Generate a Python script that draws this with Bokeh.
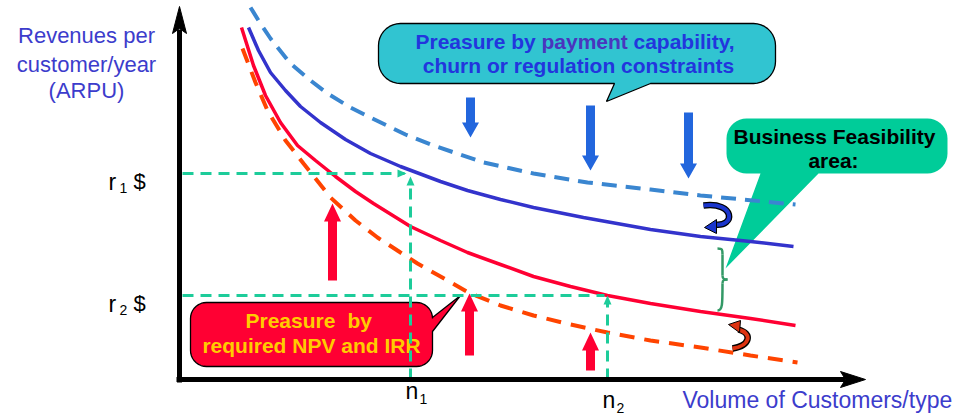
import numpy as np
from bokeh.plotting import figure
from bokeh.models import Range1d
from bokeh.core.properties import value
from bokeh.embed import file_html
from bokeh.resources import INLINE

# ---------------- data (origin at the axes corner; x = customers, y = ARPU) ----------------
payment_limit_x = [71, 79, 91, 111, 131, 148, 171, 191, 226, 254, 304, 354, 408, 471, 521, 616]
payment_limit_y = [372, 359, 341, 316, 299, 286, 272, 262, 245, 234, 217, 206, 197, 190, 184, 175]

arpu_high_x = [69, 79, 91, 106, 121, 141, 166, 191, 221, 261, 288, 321, 354, 404, 471, 521, 571, 614]
arpu_high_y = [352, 329, 307, 289, 273, 257, 240, 226, 213, 198, 189, 180, 172, 162, 150, 143, 138, 133]

arpu_low_x = [62, 74, 86, 101, 118, 136, 156, 176, 194, 231, 261, 288, 321, 354, 391, 428, 471, 521, 571, 616]
arpu_low_y = [352, 314, 284, 257, 234, 219, 203, 188, 176, 153, 139, 127, 115, 103, 93, 84, 76, 68, 61, 54]

npv_limit_x = [63, 76, 88, 106, 124, 151, 176, 198, 221, 238, 261, 289, 321, 354, 391, 428, 471, 521, 571, 618]
npv_limit_y = [331, 297, 269, 239, 216, 182, 159, 142, 127, 116, 103, 87, 74, 64, 55, 47, 39, 32, 24, 17]

r_levels = [206, 84]          # r1, r2
n_levels = [231, 428]         # n1, n2
r_names = ["1", "2"]
n_names = ["1", "2"]

down_arrow_x = [291, 411, 509]
down_arrow_top = [282, 274, 267]
down_arrow_tip = [242, 209, 201]

up_arrow_x = [153, 290, 411]
up_arrow_base = [99, 24, 9]
up_arrow_tip = [176, 86, 47]

# ---------------- figure ----------------
p = figure(width=967, height=418, x_range=Range1d(-179, 788), y_range=Range1d(-39, 379),
           output_backend="svg", toolbar_location=None, min_border=0,
           x_axis_location=None, y_axis_location=None)
p.grid.visible = False
p.outline_line_color = None
p.background_fill_color = "white"
p.border_fill_color = "white"

FONT = "Liberation Sans"
TEXT_SHIFT = 8


def label(x, y, s, size, color="black", bold=False, align="left"):
    p.text(x=[x], y=[y + TEXT_SHIFT], text=[s], text_font=value(FONT), text_font_size=f"{size}px",
           text_font_style="bold" if bold else "normal", text_color=color,
           text_align=align, text_baseline="alphabetic")


def callout(x0, x1, y0, y1, rx, ry, tail, edge):
    pts = []

    def arc(cx, cy, a0, a1, n=10):
        for t in np.radians(np.linspace(a0, a1, n)):
            pts.append((cx + rx * np.cos(t), cy + ry * np.sin(t)))

    arc(x1 - rx, y1 - ry, 90, 0)
    if edge == "right":
        pts.extend(tail)
    arc(x1 - rx, y0 + ry, 0, -90)
    if edge == "bottom":
        pts.extend(tail)
    arc(x0 + rx, y0 + ry, -90, -180)
    arc(x0 + rx, y1 - ry, 180, 90)
    return [q[0] for q in pts], [q[1] for q in pts]


def block_arrow(x, y0, y1, sw, hw, hl):
    d = 1 if y1 > y0 else -1
    yb = y1 - d * hl
    xs = [x - sw / 2, x - sw / 2, x - hw / 2, x, x + hw / 2, x + sw / 2, x + sw / 2]
    ys = [y0, yb, yb, y1, yb, yb, y0]
    return xs, ys


# ---------------- callout shapes ----------------
cx, cy = callout(199, 596, 296, 356, 22, 22, [(471, 296), (427, 278), (435, 296)], "bottom")
p.patch(cx, cy, fill_color="#31C4D1", line_color="black", line_width=1.3)

cx, cy = callout(547, 768, 206, 261, 20, 20, [(639, 206), (546, 111), (581, 206)], "bottom")
p.patch(cx, cy, fill_color="#00CC99", line_color=None)

cx, cy = callout(11, 253, 13, 77, 16, 16, [(253, 62), (281, 84), (253, 48)], "right")
p.patch(cx, cy, fill_color="#FF0033", line_color="black", line_width=1.3)

# callout texts
label(236, 330, "Preasure by", 21, "#2236DD", True)
label(362, 330, "payment", 21, "#4A35BE", True)
label(454, 330, "capability,", 21, "#2236DD", True)
label(399, 306, "churn or regulation constraints", 21, "#2236DD", True, "center")

label(655, 235, "Business Feasibility", 21, "black", True, "center")
label(654, 211, "area:", 21, "black", True, "center")

label(66, 51, "Preasure", 21, "#FFCC00", True)
label(168, 51, "by", 21, "#FFCC00", True)
label(132, 26, "required NPV and IRR", 21, "#FFCC00", True, "center")

# ---------------- curves ----------------
p.line(payment_limit_x, payment_limit_y, line_color="#3A86D0", line_width=4, line_dash="15 9")
p.line(arpu_high_x, arpu_high_y, line_color="#3333CC", line_width=3.5)
p.line(arpu_low_x, arpu_low_y, line_color="#FF0033", line_width=3.5)
p.line(npv_limit_x, npv_limit_y, line_color="#FF4400", line_width=4, line_dash="15 10")

# ---------------- guide lines ----------------
G = "#1DCC9A"
r1, r2 = r_levels
n1, n2 = n_levels
p.line([3, n1 - 6], [r1, r1], line_color=G, line_width=3, line_dash="11 7")
p.line([n1, n1], [0, r1 - 8], line_color=G, line_width=3, line_dash="11 7")
p.line([3, n2 - 3], [r2, r2], line_color=G, line_width=3, line_dash="11 7")
p.line([n2, n2], [0, r2 - 8], line_color=G, line_width=3, line_dash="11 7")
p.patches([[n1 - 13, n1 - 4, n1 - 13], [n1 - 4, n1, n1 + 4], [n2 - 4, n2, n2 + 4]],
          [[r1 + 4, r1, r1 - 4], [r1 - 12, r1 - 3, r1 - 12], [r2 - 9, r2, r2 - 9]],
          fill_color=G, line_color=None)

# ---------------- pressure arrows ----------------
axs, ays = [], []
for x, a, b in zip(down_arrow_x, down_arrow_top, down_arrow_tip):
    xs, ys = block_arrow(x, a, b, 9, 17, 15)
    axs.append(xs)
    ays.append(ys)
p.patches(axs, ays, fill_color="#2266DD", line_color=None)

axs, ays = [], []
for x, a, b in zip(up_arrow_x, up_arrow_base, up_arrow_tip):
    xs, ys = block_arrow(x, a, b, 9, 17, 18)
    axs.append(xs)
    ays.append(ys)
p.patches(axs, ays, fill_color="#FF0033", line_color=None)

# ---------------- curved arrows ----------------
p.bezier(x0=[524], y0=[174], x1=[535], y1=[155], cx0=[556], cy0=[178], cx1=[556], cy1=[152],
         line_color="black", line_width=6.5)
p.bezier(x0=[524], y0=[174], x1=[535], y1=[155], cx0=[556], cy0=[178], cx1=[556], cy1=[152],
         line_color="#1A35CC", line_width=4)
p.patch([525, 537, 537], [152, 160, 146], fill_color="#1A35CC", line_color="black", line_width=1)

p.bezier(x0=[559], y0=[50], x1=[553], y1=[31], cx0=[573], cy0=[46], cx1=[571], cy1=[34],
         line_color="black", line_width=6.5)
p.bezier(x0=[559], y0=[50], x1=[553], y1=[31], cx0=[573], cy0=[46], cx1=[571], cy1=[34],
         line_color="#DD3311", line_width=4)
p.patch([549, 561, 560], [55, 59, 47], fill_color="#DD3311", line_color="black", line_width=1)

# ---------------- brace ----------------
B = "#339966"
p.bezier(x0=[538, 543, 548, 543], y0=[131, 104, 100, 96],
         x1=[543, 548, 543, 538], y1=[125, 100, 96, 69],
         cx0=[543, 543, 545, 543], cy0=[131, 100, 100, 75],
         cx1=[543, 545, 543, 543], cy1=[130, 100, 100, 69],
         line_color=B, line_width=2.5)
p.line([543, 543], [125, 104], line_color=B, line_width=2.5)

# ---------------- axes ----------------
p.line([0, 0], [-3, 350], line_color="black", line_width=5)
p.patch([-7, 0, 7, 0], [346, 373, 346, 351], fill_color="black", line_color="black")
p.line([-3, 666], [0, 0], line_color="black", line_width=5)
p.patch([661, 686, 661, 666], [8, 0, -8, 0], fill_color="black", line_color="black")

# ---------------- axis labels ----------------
YC = "#3C3CCC"
label(-93, 336, "Revenues per", 22, YC, align="center")
label(-93, 307, "customer/year", 22, YC, align="center")
label(-93, 281, "(ARPU)", 22, YC, align="center")
label(503, -28, "Volume of Customers/type", 23, YC)

# r and n tick labels
for lvl, nm in zip(r_levels, r_names):
    label(-71, lvl - 16, "r", 23)
    label(-60, lvl - 22, nm, 14)
    label(-46, lvl - 16, "$", 22)
for lvl, nm, dy in zip(n_levels, n_names, [0, -9]):
    label(lvl - 5, -19 + dy, "n", 23)
    label(lvl + 9, -27 + dy, nm, 14)

open("out.html", "w").write(file_html(p, INLINE))
